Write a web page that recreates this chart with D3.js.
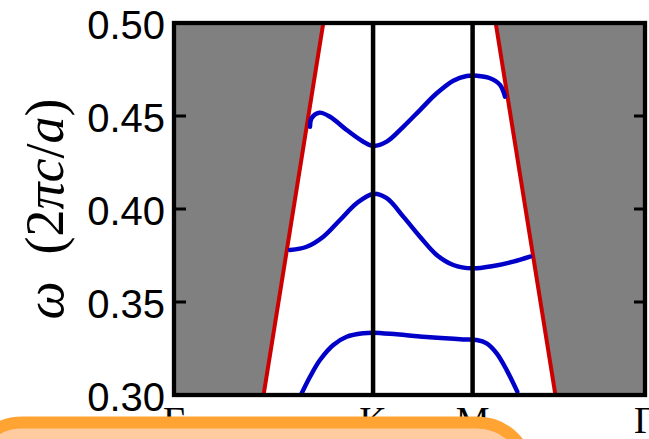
<!DOCTYPE html>
<html>
<head>
<meta charset="utf-8">
<script src="https://cdn.jsdelivr.net/npm/d3@7/dist/d3.min.js"></script>
<style>
  html, body { margin: 0; padding: 0; background: #fff; overflow: hidden; }
  svg { display: block; }
</style>
</head>
<body>
<svg id="chart" width="649" height="439"></svg>
<script>
// High-symmetry points along the path Γ–K–M–Γ (path length in units of 2π/a)
const kLabels = ["Γ", "K", "M", "Γ"];
const kPoints = [0, 0.6667, 1.0, 1.5774];

// Frequency axis ticks (ωa/2πc)
const yTicks = [0.30, 0.35, 0.40, 0.45, 0.50];

// Light lines bounding the light cone, [k, ω]
const lightLeft = [[0.30, 0.30], [0.50, 0.50]];
const lightRight = [[1.2774, 0.30], [1.0774, 0.50]];

// Guided bands below the light line, [k, ω]
const band1 = [
  [0.4277, 0.3009], [0.4555, 0.3098], [0.4889, 0.3188], [0.5335, 0.3269],
  [0.5784, 0.3313], [0.6340, 0.3332], [0.6667, 0.3335], [0.7458, 0.3326],
  [0.8573, 0.3310], [0.9689, 0.3299], [1.0137, 0.3296], [1.0472, 0.3278],
  [1.0807, 0.3224], [1.1142, 0.3134], [1.1497, 0.3018]
];
const band2 = [
  [0.3885, 0.3780], [0.4444, 0.3797], [0.5000, 0.3851], [0.5559, 0.3941],
  [0.6119, 0.4031], [0.6667, 0.4081], [0.7123, 0.4058], [0.7679, 0.3959],
  [0.8238, 0.3851], [0.8798, 0.3753], [0.9354, 0.3699], [1.0000, 0.3681],
  [1.0693, 0.3694], [1.1363, 0.3717], [1.1922, 0.3744]
];
const band3 = [
  [0.4555, 0.4442], [0.4611, 0.4489], [0.4866, 0.4518], [0.5224, 0.4496],
  [0.5784, 0.4425], [0.6340, 0.4362], [0.6667, 0.4339], [0.7123, 0.4362],
  [0.7679, 0.4442], [0.8238, 0.4532], [0.8798, 0.4622], [0.9354, 0.4690],
  [0.9802, 0.4715], [1.0137, 0.4717], [1.0583, 0.4703], [1.0918, 0.4667],
  [1.1085, 0.4604]
];

const svg = d3.select("#chart");
const x = d3.scaleLinear().domain([kPoints[0], kPoints[3]]).range([174, 645]);
const y = d3.scaleLinear().domain([yTicks[0], yTicks[yTicks.length - 1]]).range([395, 23]);
const [x0, x1] = x.range();
const [y0, y1] = y.range();

svg.append("defs").append("clipPath").attr("id", "plot-clip")
  .append("rect").attr("x", x0).attr("y", y1).attr("width", x1 - x0).attr("height", y0 - y1);

const plot = svg.append("g").attr("clip-path", "url(#plot-clip)");

// Light cone (radiation modes) shaded gray
const wMin = yTicks[0], wMax = yTicks[yTicks.length - 1];
const conePoly = [
  [[kPoints[0], wMin], lightLeft[0], lightLeft[1], [kPoints[0], wMax]],
  [lightRight[0], [kPoints[3], wMin], [kPoints[3], wMax], lightRight[1]]
];
plot.selectAll("path.cone").data(conePoly).join("path")
  .attr("class", "cone")
  .attr("d", d => "M" + d.map(p => [x(p[0]), y(p[1])].join(",")).join("L") + "Z")
  .attr("fill", "#808080");

const line = d3.line().x(d => x(d[0])).y(d => y(d[1]));

// Light lines
plot.selectAll("path.light").data([lightLeft, lightRight]).join("path")
  .attr("class", "light")
  .attr("d", line)
  .attr("fill", "none")
  .attr("stroke", "#cc0000")
  .attr("stroke-width", 4);

// Bands
const smooth = d3.line().x(d => x(d[0])).y(d => y(d[1])).curve(d3.curveCatmullRom.alpha(0.5));
plot.selectAll("path.band").data([band1, band2, band3]).join("path")
  .attr("class", "band")
  .attr("d", smooth)
  .attr("fill", "none")
  .attr("stroke", "#0000c8")
  .attr("stroke-width", 4.5)
  .attr("stroke-linecap", "round")
  .attr("stroke-linejoin", "round");

// Vertical lines at interior high-symmetry points
plot.selectAll("line.sym").data(kPoints.slice(1, 3)).join("line")
  .attr("class", "sym")
  .attr("x1", d => x(d)).attr("x2", d => x(d))
  .attr("y1", y1).attr("y2", y0)
  .attr("stroke", "#000").attr("stroke-width", 4.5);

// Inward ticks on left and right
const inner = yTicks.slice(1, -1);
svg.selectAll("line.tl").data(inner).join("line")
  .attr("x1", x0).attr("x2", x0 + 12)
  .attr("y1", d => y(d)).attr("y2", d => y(d))
  .attr("stroke", "#000").attr("stroke-width", 3);
svg.selectAll("line.tr").data(inner).join("line")
  .attr("x1", x1).attr("x2", x1 - 11)
  .attr("y1", d => y(d)).attr("y2", d => y(d))
  .attr("stroke", "#000").attr("stroke-width", 3);

// Frame
svg.append("rect")
  .attr("x", x0).attr("y", y1).attr("width", x1 - x0).attr("height", y0 - y1)
  .attr("fill", "none").attr("stroke", "#000").attr("stroke-width", 4.3);

// Y tick labels
svg.selectAll("text.yt").data(yTicks).join("text")
  .attr("class", "yt")
  .attr("x", x0 - 9)
  .attr("y", d => y(d) + 16)
  .attr("text-anchor", "end")
  .attr("font-family", "'Liberation Sans', Arial, sans-serif")
  .attr("font-size", 40)
  .attr("fill", "#000")
  .text(d => d.toFixed(2));

// X tick labels
svg.selectAll("text.xt").data(kPoints).join("text")
  .attr("class", "xt")
  .attr("x", d => x(d))
  .attr("y", 433)
  .attr("text-anchor", "middle")
  .attr("font-family", "'Liberation Serif', 'Times New Roman', serif")
  .attr("font-size", 38)
  .attr("fill", "#000")
  .text((d, i) => kLabels[i]);

// Y axis label: ω (2πc/a)
const yl = svg.append("text")
  .attr("transform", "translate(63," + ((y0 + y1) / 2) + ") rotate(-90)")
  .attr("text-anchor", "middle")
  .attr("font-family", "'Liberation Serif', 'Times New Roman', serif")
  .attr("font-size", 54)
  .attr("fill", "#000");
[["ω", true], ["\u2002(2", false], ["π", true], ["c", true], ["/", false], ["a", true], [")", false]]
  .forEach(([t, it]) => yl.append("tspan").attr("font-style", it ? "italic" : "normal").text(t));

// Banner overlapping the bottom edge
svg.append("rect")
  .attr("x", -30).attr("y", 422.5)
  .attr("width", 559).attr("height", 120)
  .attr("rx", 52).attr("ry", 52)
  .attr("fill", "#ffcba0")
  .attr("stroke", "#ffa333")
  .attr("stroke-width", 12);
</script>
</body>
</html>
